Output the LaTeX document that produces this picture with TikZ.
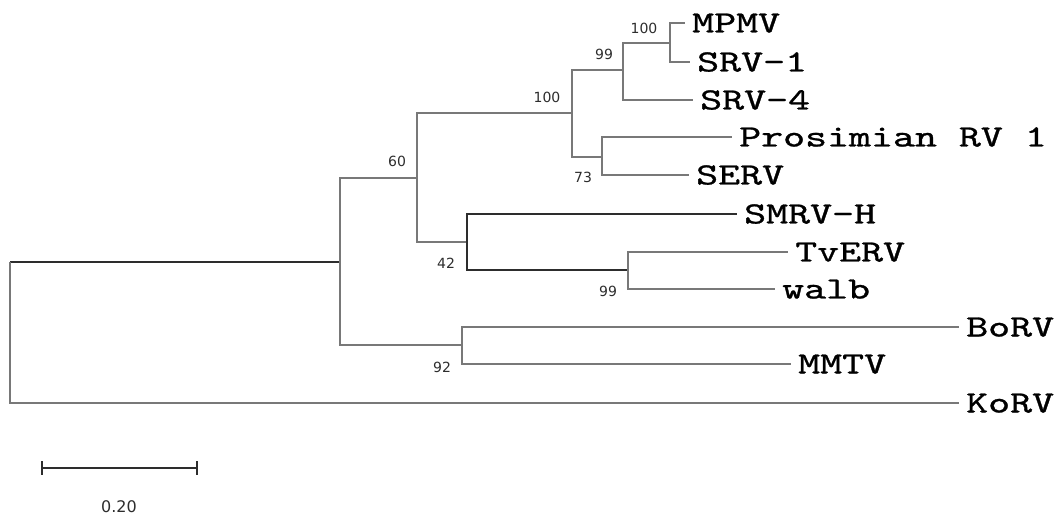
\documentclass[tikz,border=0pt]{standalone}
\usepackage{fontspec}
\usepackage{graphicx}
\newfontfamily\bootfont{DejaVu Sans}
\newfontfamily\leaffont{lmmono10-regular.otf}[FakeBold=0.8]
\newcommand\leaftext[1]{\scalebox{1.35}[1]{#1}}
\definecolor{treegray}{RGB}{120,120,120}
\definecolor{treedark}{RGB}{45,45,45}
\definecolor{bootgray}{RGB}{45,45,45}
\begin{document}
\begin{tikzpicture}[x=1bp,y=-1bp,
  tree/.style={draw=treegray, line width=1.3bp},
  treeblack/.style={draw=treedark, line width=1.3bp},
  leaf/.style={anchor=west, inner xsep=7bp, inner ysep=0pt,
    font=\leaffont\fontsize{31bp}{31bp}\selectfont, text height=19bp, text depth=0pt},
  boot/.style={font=\bootfont\fontsize{14bp}{14bp}\selectfont, text=bootgray, inner sep=0pt},
  scalelbl/.style={font=\bootfont\fontsize{16bp}{16bp}\selectfont, text=bootgray, inner sep=0pt}]
\useasboundingbox (0,0) rectangle (1059,518);
% internal nodes
\coordinate (R) at (10,262);
\coordinate (A) at (340,262);
\coordinate (B) at (417,178);
\coordinate (C) at (572,113);
\coordinate (D) at (623,70);
\coordinate (F) at (670,43);
\coordinate (E) at (602,157);
\coordinate (G) at (467,242);
\coordinate (H) at (628,270);
\coordinate (K) at (462,345);
% leaves
\node[leaf] (mpmv) at (685,23) {\leaftext{MPMV}};
\node[leaf] (srv1) at (690,62) {\leaftext{SRV-1}};
\node[leaf] (srv4) at (693,100) {\leaftext{SRV-4}};
\node[leaf] (pros) at (732,137) {\leaftext{Prosimian RV 1}};
\node[leaf] (serv) at (689,175) {\leaftext{SERV}};
\node[leaf] (smrv) at (737,214) {\leaftext{SMRV-H}};
\node[leaf] (tverv) at (788,252) {\leaftext{TvERV}};
\node[leaf] (walb) at (775,289) {\leaftext{walb}};
\node[leaf] (borv) at (959,327) {\leaftext{BoRV}};
\node[leaf] (mmtv) at (791,364) {\leaftext{MMTV}};
\node[leaf] (korv) at (959,403) {\leaftext{KoRV}};
% branches
\draw[treeblack] (R) -- (A);
\draw[tree] (R) |- (korv.west);
\draw[tree] (A) |- (B);
\draw[tree] (A) |- (K);
\draw[tree] (B) |- (C);
\draw[tree] (B) |- (G);
\draw[tree] (C) |- (D);
\draw[tree] (C) |- (E);
\draw[tree] (D) |- (F);
\draw[tree] (D) |- (srv4.west);
\draw[tree] (F) |- (mpmv.west);
\draw[tree] (F) |- (srv1.west);
\draw[tree] (E) |- (pros.west);
\draw[tree] (E) |- (serv.west);
\draw[treeblack] (G) |- (smrv.west);
\draw[treeblack] (G) |- (H);
\draw[tree] (H) |- (tverv.west);
\draw[tree] (H) |- (walb.west);
\draw[tree] (K) |- (borv.west);
\draw[tree] (K) |- (mmtv.west);
% bootstrap values
\node[boot] (b100a) at (644,28) {100};
\node[boot] (b99a) at (604,54) {99};
\node[boot] (b100b) at (547,97) {100};
\node[boot] (b73) at (583,177) {73};
\node[boot] (b60) at (397,161) {60};
\node[boot] (b42) at (446,263) {42};
\node[boot] (b99b) at (608,291) {99};
\node[boot] (b92) at (442,367) {92};
% scale bar
\coordinate (s1) at (42,468);
\coordinate (s2) at (197,468);
\coordinate (s1t) at (42,461);
\coordinate (s1b) at (42,475);
\coordinate (s2t) at (197,461);
\coordinate (s2b) at (197,475);
\draw[treeblack] (s1) -- (s2);
\draw[treeblack] (s1t) -- (s1b);
\draw[treeblack] (s2t) -- (s2b);
\node[scalelbl] (sl) at (119,507) {0.20};
\end{tikzpicture}
\end{document}
